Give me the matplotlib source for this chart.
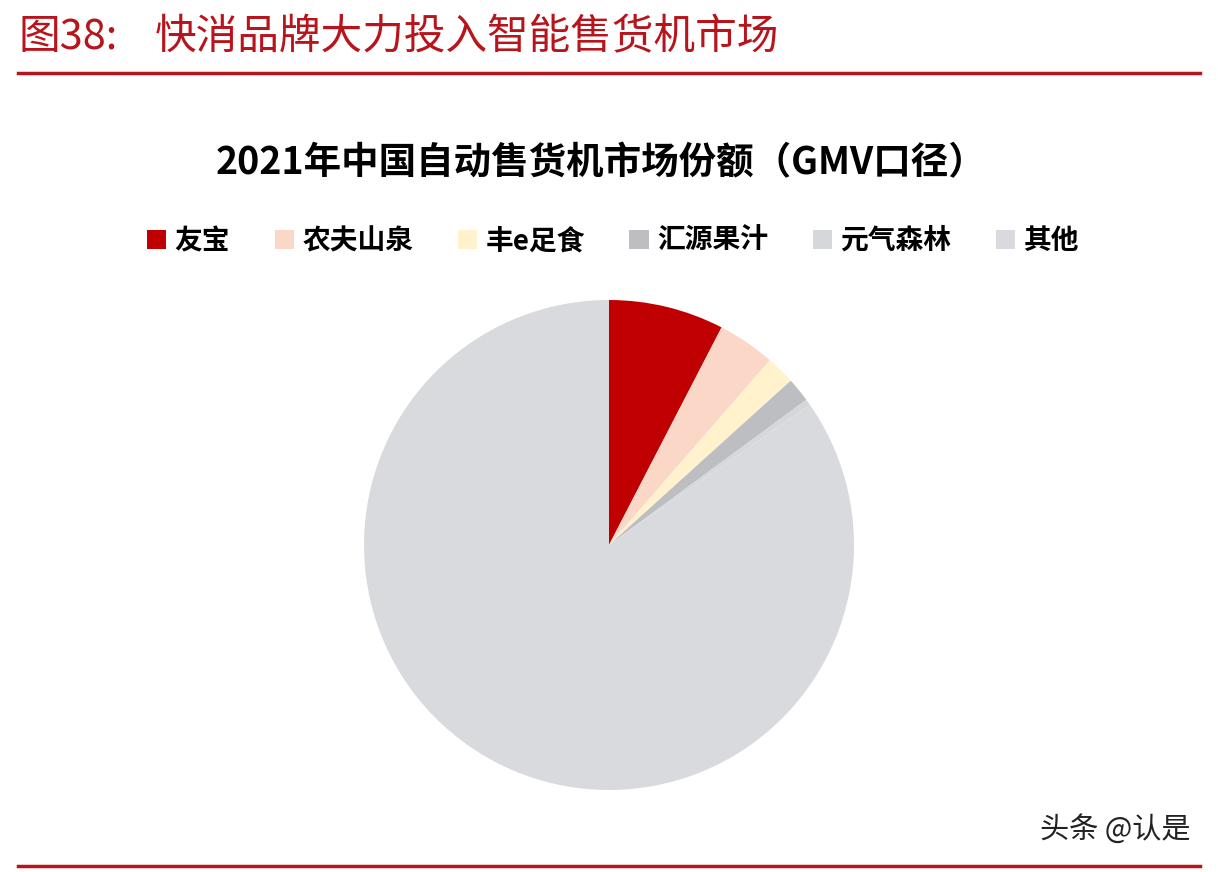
import matplotlib
matplotlib.use("Agg")
import matplotlib.pyplot as plt
from matplotlib.patches import Patch
from matplotlib.lines import Line2D

plt.rcParams['font.family'] = ['Noto Sans CJK SC', 'DejaVu Sans']

# --- data (%) ---
brands = ["友宝", "农夫山泉", "丰e足食", "汇源果汁", "元气森林", "其他"]
shares = [7.6, 3.8, 1.9, 1.6, 0.4, 84.7]
colors = ["#C00000", "#FBD7C8", "#FFF2CC", "#BDBEC1", "#D6D7DA", "#D9DADD"]

fig = plt.figure(figsize=(12.18, 8.72), dpi=100)
fig.patch.set_facecolor("white")

# header
fig.text(18 / 1218, 1 - 38 / 872, "图38:", fontsize=30, color="#B8141C",
         va="center", ha="left")
fig.text(155 / 1218, 1 - 38 / 872, "快消品牌大力投入智能售货机市场",
         fontsize=30, color="#B8141C", va="center", ha="left")
fig.add_artist(Line2D([18 / 1218, 1200 / 1218], [1 - 73 / 872, 1 - 73 / 872],
                      color="#B8141C", lw=2.5))
fig.add_artist(Line2D([18 / 1218, 1200 / 1218], [1 - 866 / 872, 1 - 866 / 872],
                      color="#B8141C", lw=2.5))

# chart title
fig.text(601 / 1218, 1 - 163 / 872, "2021年中国自动售货机市场份额（GMV口径）",
         fontsize=27, fontweight="bold", color="black", ha="center", va="center")

# pie
ax = fig.add_axes([(609 - 245) / 1218, (872 - 790) / 872, 490 / 1218, 490 / 872])
ax.pie(shares, colors=colors, startangle=90, counterclock=False, radius=1,
       wedgeprops=dict(linewidth=0))
ax.set_xlim(-1, 1)
ax.set_ylim(-1, 1)
ax.set_aspect("equal")
ax.axis("off")

# legend
handles = [Patch(facecolor=c, edgecolor="none") for c in colors]
fig.legend(handles, brands, loc="center", bbox_to_anchor=(613 / 1218, 1 - 241 / 872),
           ncol=6, frameon=False, handlelength=0.7, handleheight=0.7,
           handletextpad=0.3, columnspacing=1.6,
           prop=dict(size=20, weight="bold"))

# watermark
fig.text(1190 / 1218, 1 - 830 / 872, "头条 @认是", fontsize=21, color="#222222",
         ha="right", va="center")

fig.savefig("out.png", dpi=100)
